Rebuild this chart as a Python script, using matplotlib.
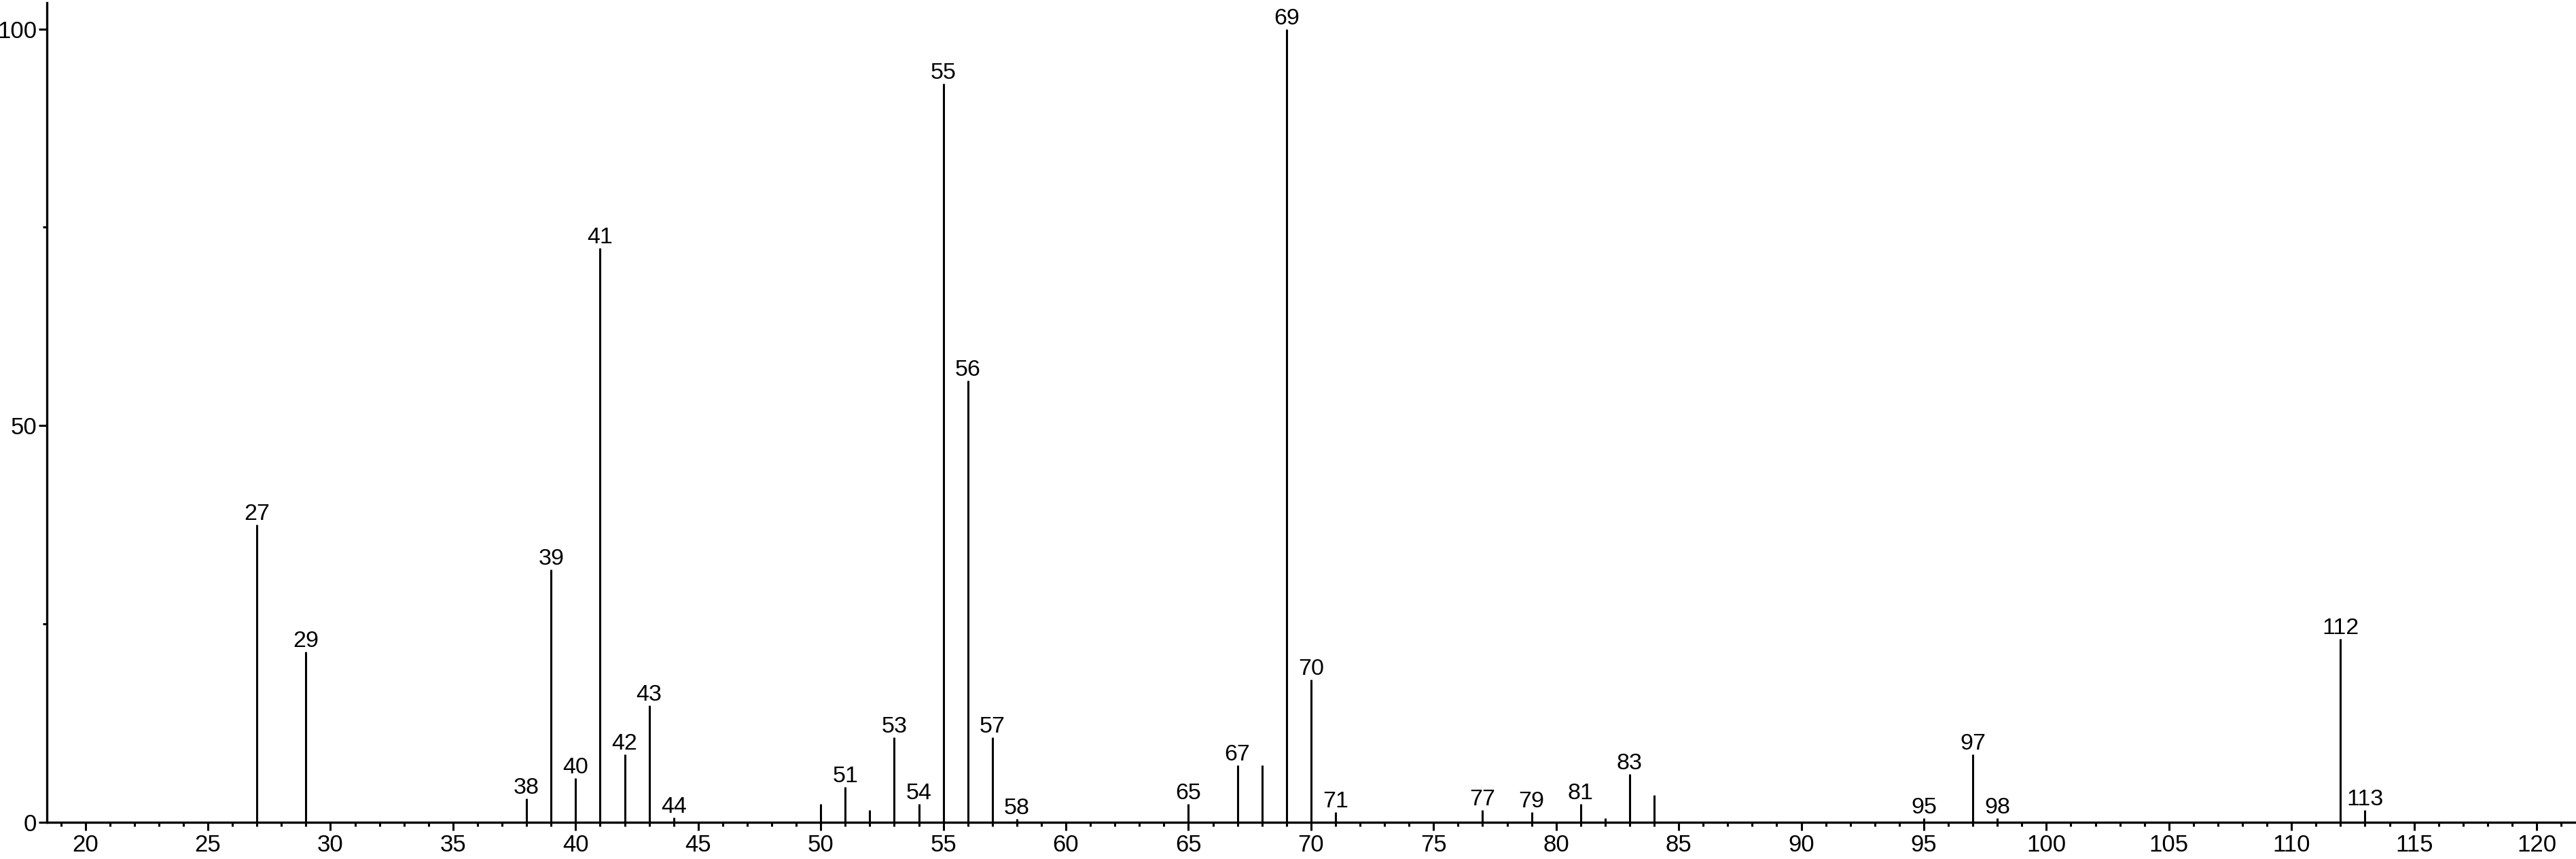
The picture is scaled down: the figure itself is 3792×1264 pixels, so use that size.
import matplotlib
matplotlib.use("Agg")
import matplotlib.pyplot as plt
from matplotlib.ticker import MultipleLocator

# mass spectrum: m/z and relative intensity (%)
mz = [27, 29, 38, 39, 40, 41, 42, 43, 44, 50, 51, 52, 53, 54, 55, 56, 57, 58,
      65, 67, 68, 69, 70, 71, 77, 79, 81, 82, 83, 84, 95, 97, 98, 112, 113]
intensity = [37.5, 21.5, 3.0, 31.9, 5.6, 72.4, 8.6, 14.7, 0.6, 2.35, 4.45, 1.55,
             10.7, 2.35, 93.1, 55.7, 10.7, 0.45, 2.35, 7.2, 7.2, 100.0, 18.0, 1.3,
             1.55, 1.3, 2.35, 0.5, 6.1, 3.45, 0.5, 8.55, 0.5, 23.1, 1.55]
unlabeled = [50, 52, 68, 82, 84]

xticks = list(range(20, 121, 5))
yticks = [0, 50, 100]

plt.rcParams['font.family'] = ['Liberation Sans', 'DejaVu Sans']

W, H = 3792, 1264
fig = plt.figure(figsize=(W / 100, H / 100), dpi=100)
ax = fig.add_axes([69 / W, 54 / H, (3790 - 69) / W, (1210 - 4) / H])

ax.vlines(mz, 0, intensity, color='black', linewidth=2.2)
for m, h in zip(mz, intensity):
    if m not in unlabeled:
        ax.text(m, h, str(m), ha='center', va='bottom', fontsize=24.5)

ax.set_xlim(18.43, 121.55)
ax.set_ylim(0, 103.3)
ax.set_xticks(xticks)
ax.set_yticks(yticks)
ax.xaxis.set_minor_locator(MultipleLocator(1))
ax.yaxis.set_minor_locator(MultipleLocator(25))

for s in ['top', 'right']:
    ax.spines[s].set_visible(False)
for s in ['left', 'bottom']:
    ax.spines[s].set_linewidth(2.4)

ax.tick_params(axis='both', which='major', length=8.5, width=2.2, labelsize=25)
ax.tick_params(axis='both', which='minor', length=4.5, width=2.2)
ax.tick_params(axis='x', which='major', pad=4)
ax.tick_params(axis='y', which='major', pad=2)

fig.savefig('out.png', dpi=100)
